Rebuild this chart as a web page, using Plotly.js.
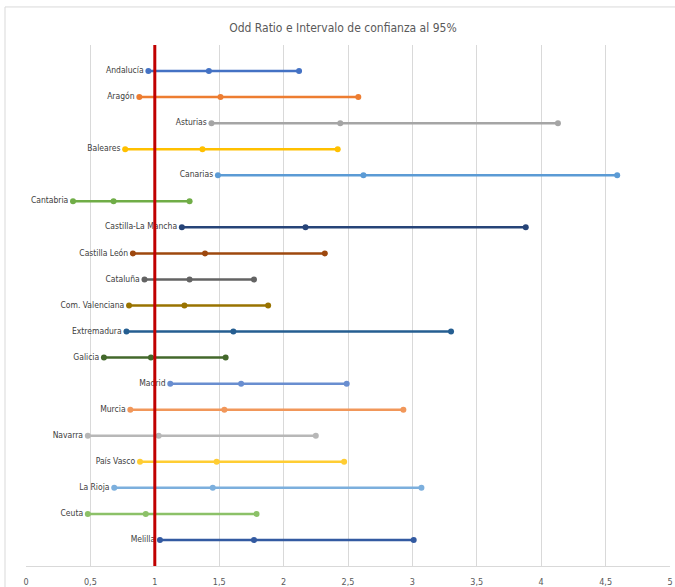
<!DOCTYPE html>
<html>
<head>
<meta charset="utf-8">
<script src="https://cdn.plot.ly/plotly-3.0.1.min.js"></script>
<style>html,body{margin:0;padding:0;background:#fff;}#chart{width:675px;height:587px;}</style>
</head>
<body>
<div id="chart"></div>
<script>
const regions = ["Andalucía","Aragón","Asturias","Baleares","Canarias","Cantabria","Castilla-La Mancha","Castilla León","Cataluña","Com. Valenciana","Extremadura","Galicia","Madrid","Murcia","Navarra","País Vasco","La Rioja","Ceuta","Melilla"];
const lower = [0.95,0.88,1.44,0.77,1.49,0.365,1.21,0.83,0.92,0.80,0.78,0.605,1.12,0.81,0.48,0.885,0.685,0.48,1.04];
const oddRatio = [1.42,1.51,2.44,1.37,2.62,0.68,2.17,1.39,1.27,1.23,1.61,0.97,1.67,1.54,1.03,1.48,1.45,0.93,1.77];
const upper = [2.12,2.58,4.13,2.42,4.59,1.27,3.88,2.32,1.77,1.88,3.30,1.55,2.49,2.93,2.25,2.47,3.07,1.79,3.01];
const colors = ["#4472C4","#ED7D31","#A5A5A5","#FFC000","#5B9BD5","#70AD47","#264478","#9E480E","#636363","#997300","#255E91","#43682B","#698ED0","#F1975A","#B7B7B7","#FFCD33","#7CAFDD","#8CC168","#335AA1"];
const refX = [1, 1];
const refY = [0, 20];
const xTicks = [0,0.5,1,1.5,2,2.5,3,3.5,4,4.5,5];

const fontFam = '"DejaVu Sans Condensed", "Liberation Sans Narrow", sans-serif';
const n = regions.length;
const traces = regions.map((r, i) => ({
  type: 'scatter',
  mode: 'lines+markers+text',
  x: [lower[i], oddRatio[i], upper[i]],
  y: [n - i, n - i, n - i],
  text: [r, '', ''],
  textposition: 'middle left',
  textfont: {family: fontFam, size: 8.5, color: '#404040'},
  line: {color: colors[i], width: 2.5},
  marker: {color: colors[i], size: 6},
  hoverinfo: 'x',
  cliponaxis: false,
  showlegend: false
}));
traces.push({
  type: 'scatter', mode: 'lines', x: refX, y: refY,
  line: {color: '#C00000', width: 3}, showlegend: false, hoverinfo: 'skip'
});

const layout = {
  width: 675, height: 587,
  margin: {l: 26, r: 5, t: 45, b: 21},
  paper_bgcolor: '#fff', plot_bgcolor: '#fff',
  separators: ',.',
  title: {text: 'Odd Ratio e Intervalo de confianza al 95%', x: 0.508, xanchor: 'center', y: 0.952, yanchor: 'middle',
          font: {family: fontFam, size: 12, color: '#595959'}},
  xaxis: {range: [0, 5], tickvals: xTicks, showgrid: true, gridcolor: '#D9D9D9', gridwidth: 1,
          zeroline: false, showline: true, linecolor: '#D9D9D9', linewidth: 1, ticks: '',
          ticklabelstandoff: 7,
          tickfont: {family: fontFam, size: 9, color: '#595959'}, fixedrange: true},
  yaxis: {range: [0, 20], visible: false, showgrid: false, zeroline: false, fixedrange: true},
  shapes: [{type: 'rect', xref: 'paper', yref: 'paper', x0: -0.0326, x1: 1.03, y0: -0.2, y1: 1.073,
            line: {color: '#D9D9D9', width: 1}, layer: 'below'}]
};
Plotly.newPlot('chart', traces, layout, {displayModeBar: false, staticPlot: true});
</script>
</body>
</html>
